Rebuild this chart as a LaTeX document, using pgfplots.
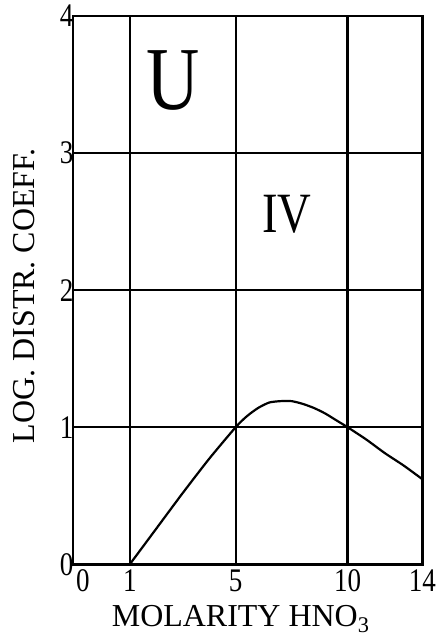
\documentclass[border=0pt]{standalone}
\usepackage{pgfplots}
\pgfplotsset{compat=1.18}
\usepackage{fontspec}
\setmainfont{Liberation Serif}
\newfontfamily\narrowserif[FakeStretch=0.82]{Liberation Serif}

% Distribution coefficient of U(IV) against nitric acid molarity
\pgfplotstableread{
M     logD
1     0.00
2     0.26
3     0.52
4     0.77
5     1.00
5.5   1.08
6     1.14
6.5   1.18
7     1.19
7.5   1.19
8     1.17
8.5   1.14
9     1.10
9.5   1.05
10    1.00
11    0.91
12    0.81
13    0.72
14    0.62
}\uiv

\begin{document}
\begin{tikzpicture}
\begin{axis}[
  scale only axis,
  width=350bp, height=549bp,
  xmin=0, xmax=14, ymin=0, ymax=4,
  clip=false,
  % the molarity scale is stretched piecewise, as on the original nomogram
  x coord trafo/.code={\pgfmathparse{min(57*#1, 57+26.5*(#1-1), 163+22.4*(#1-5), 275+18.75*(#1-10))}},
  x coord inv trafo/.code={\pgfmathparse{max(#1/57, 1+(#1-57)/26.5, 5+(#1-163)/22.4, 10+(#1-275)/18.75)}},
  xtick={0,1,5,10,14},
  xticklabels={\hspace{20bp}0,1,5,10,14},
  ytick={0,1,2,3,4},
  grid=major,
  major grid style={black, line width=2.3bp},
  axis line style={black, line width=2.5bp},
  major tick length=0pt,
  /pgf/number format/assume math mode=true,
  ticklabel style={font=\fontsize{33bp}{33bp}\narrowserif},
  xticklabel style={yshift=-2bp},
  yticklabel style={xshift=4bp},
  xlabel={MOLARITY HNO\textsubscript{3}},
  ylabel={LOG. DISTR. COEFF.},
  label style={font=\fontsize{32bp}{32bp}\selectfont},
  xlabel style={at={(axis description cs:0.48,0)}, anchor=base, yshift=-62bp},
  ylabel style={at={(axis description cs:0,0.49)}, anchor=center, yshift=49bp},
]
\addplot[black, line width=2.2bp, smooth, tension=0.4] table[x=M, y=logD] {\uiv};
\node[font=\fontsize{90bp}{90bp}\narrowserif] at (axis cs:2.62,3.53) {U};
\node[font=\fontsize{57bp}{57bp}\narrowserif] at (axis cs:7.28,2.55) {IV};
% page frame around the plot
\path (rel axis cs:0,0) ++(-73bp,-71bp) (rel axis cs:1,1) ++(16bp,16bp);
\end{axis}
\end{tikzpicture}
\end{document}
